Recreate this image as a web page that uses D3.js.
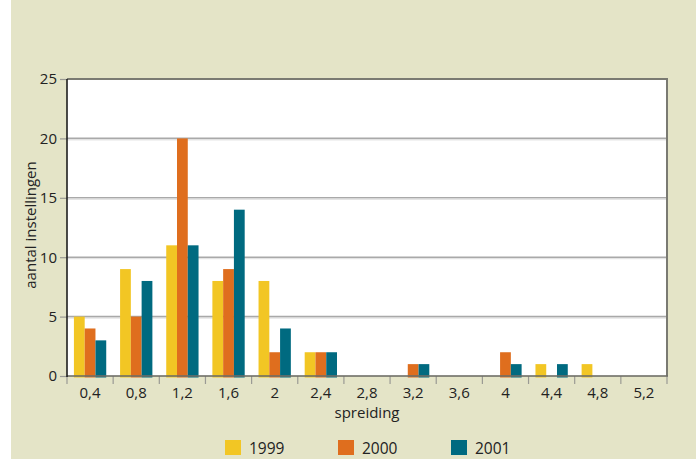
<!DOCTYPE html>
<html>
<head>
<meta charset="utf-8">
<script src="https://cdn.jsdelivr.net/npm/d3@7"></script>
<style>
  html, body { margin: 0; padding: 0; background: #ffffff; }
  svg { display: block; }
  text { font-family: "Open Sans", "Liberation Sans", Arial, sans-serif; fill: #222222; }
</style>
</head>
<body>
<svg id="chart" width="696" height="459"></svg>
<script>
const categories = ["0,4","0,8","1,2","1,6","2","2,4","2,8","3,2","3,6","4","4,4","4,8","5,2"];
const seriesNames = ["1999","2000","2001"];
const values1999 = [5, 9, 11, 8, 8, 2, 0, 0, 0, 0, 1, 1, 0];
const values2000 = [4, 5, 20, 9, 2, 2, 0, 1, 0, 2, 0, 0, 0];
const values2001 = [3, 8, 11, 14, 4, 2, 0, 1, 0, 1, 1, 0, 0];
const yTicks = [0, 5, 10, 15, 20, 25];
const colors = ["#f2c624", "#df6e1e", "#006a80"];

const seriesValues = [values1999, values2000, values2001];

(function () {
const FONT = "Open Sans, Liberation Sans, Arial, sans-serif";
const svg = d3.select("#chart");
const W = 696, H = 459;
const pLeft = 67, pRight = 667, pTop = 79, pBottom = 376;

// backdrop
svg.append("rect").attr("x", 11).attr("y", 0).attr("width", W - 11).attr("height", H).attr("fill", "#e4e4c7");
svg.append("rect").attr("x", pLeft).attr("y", pTop).attr("width", pRight - pLeft).attr("height", pBottom - pTop).attr("fill", "#ffffff");

const x = d3.scaleBand().domain(categories).range([pLeft, pRight]).paddingInner(0.3).paddingOuter(0.15);
const xBand = d3.scaleBand().domain(categories).range([pLeft, pRight]);
const xs = d3.scaleBand().domain(seriesNames).range([0, x.bandwidth()]);
const y = d3.scaleLinear().domain([0, 25]).range([pBottom, pTop]);

// gridlines
const inner = yTicks.filter(t => t > 0 && t < 25);
svg.append("g").selectAll("line").data(inner).join("line")
  .attr("x1", pLeft).attr("x2", pRight)
  .attr("y1", d => y(d)).attr("y2", d => y(d))
  .attr("stroke", "#a9a9a9").attr("stroke-width", 1.6);
svg.append("g").selectAll("line").data(inner).join("line")
  .attr("x1", pLeft).attr("x2", pRight)
  .attr("y1", d => y(d) + 1.5).attr("y2", d => y(d) + 1.5)
  .attr("stroke", "#dedede").attr("stroke-width", 1);

// bars
const groups = svg.append("g").selectAll("g").data(categories).join("g")
  .attr("transform", d => `translate(${x(d)},0)`);
groups.selectAll("rect").data((c, i) => seriesNames.map((s, k) => ({ s, v: seriesValues[k][i], k })))
  .join("rect")
  .attr("x", d => xs(d.s))
  .attr("width", xs.bandwidth())
  .attr("y", d => y(d.v))
  .attr("height", d => d.v > 0 ? (pBottom + 1.5 - y(d.v)) : 0)
  .attr("fill", d => colors[d.k]);

// top and right frame
svg.append("line").attr("x1", pLeft).attr("x2", pRight + 1).attr("y1", pTop).attr("y2", pTop)
  .attr("stroke", "#7a7a72").attr("stroke-width", 2);
svg.append("line").attr("x1", pRight).attr("x2", pRight).attr("y1", pTop).attr("y2", pBottom)
  .attr("stroke", "#7a7a72").attr("stroke-width", 2);

// y axis
const yAxis = d3.axisLeft(y).tickValues(yTicks).tickSize(7).tickPadding(3);
const gy = svg.append("g").attr("transform", `translate(${pLeft},0)`).call(yAxis);
gy.attr("font-family", FONT).attr("font-size", 15);
gy.select(".domain").remove();
gy.selectAll(".tick line").attr("stroke", "#9a9a94").attr("stroke-width", 1.2);
gy.selectAll(".tick text").attr("fill", "#222222");

// x axis (ticks at band boundaries)
svg.append("g").selectAll("line").data(categories.concat(["__end"])).join("line")
  .attr("x1", (d, i) => pLeft + i * xBand.step()).attr("x2", (d, i) => pLeft + i * xBand.step())
  .attr("y1", pBottom).attr("y2", pBottom + 8)
  .attr("stroke", "#9a9a94").attr("stroke-width", 1.2);
svg.append("g").selectAll("text").data(categories).join("text")
  .attr("x", d => xBand(d) + xBand.bandwidth() / 2)
  .attr("y", 398)
  .attr("text-anchor", "middle")
  .attr("font-size", 15)
  .text(d => d);

svg.append("line").attr("x1", pLeft).attr("x2", pRight + 1).attr("y1", pBottom).attr("y2", pBottom)
  .attr("stroke", "#6e6e66").attr("stroke-width", 2.2).attr("stroke-opacity", 0.8);
svg.append("line").attr("x1", pLeft).attr("x2", pLeft).attr("y1", pTop).attr("y2", pBottom + 1)
  .attr("stroke", "#1e1e1e").attr("stroke-width", 1.6);

// axis titles
svg.append("text").attr("x", 367).attr("y", 418).attr("text-anchor", "middle")
  .attr("font-size", 15).text("spreiding");
svg.append("text").attr("transform", "translate(36,225) rotate(-90)")
  .attr("text-anchor", "middle").attr("font-size", 15).text("aantal instellingen");

// legend
const legendX = [225, 338, 451];
const lg = svg.append("g").selectAll("g").data(seriesNames).join("g")
  .attr("transform", (d, i) => `translate(${legendX[i]},440)`);
lg.append("rect").attr("width", 16).attr("height", 15).attr("fill", (d, i) => colors[i]);
lg.append("text").attr("x", 24).attr("y", 14).attr("font-size", 15.5).text(d => d);
})();
</script>
</body>
</html>
